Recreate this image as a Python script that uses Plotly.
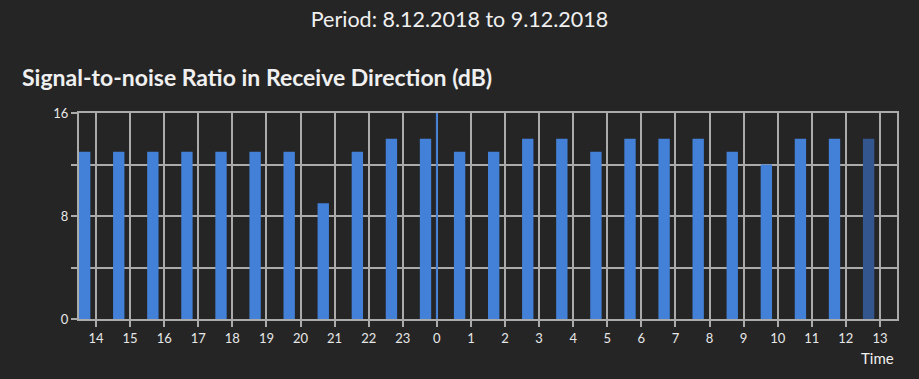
import plotly.graph_objects as go

# Data
hours = ["2018-12-08 13:40", "2018-12-08 14:40", "2018-12-08 15:40", "2018-12-08 16:40",
         "2018-12-08 17:40", "2018-12-08 18:40", "2018-12-08 19:40", "2018-12-08 20:40",
         "2018-12-08 21:40", "2018-12-08 22:40", "2018-12-08 23:40", "2018-12-09 00:40",
         "2018-12-09 01:40", "2018-12-09 02:40", "2018-12-09 03:40", "2018-12-09 04:40",
         "2018-12-09 05:40", "2018-12-09 06:40", "2018-12-09 07:40", "2018-12-09 08:40",
         "2018-12-09 09:40", "2018-12-09 10:40", "2018-12-09 11:40", "2018-12-09 12:40"]
snr_db = [13, 13, 13, 13, 13, 13, 13, 9, 13, 14, 14, 13,
          13, 14, 14, 13, 14, 14, 14, 13, 12, 14, 14, 14]
x_range = ["2018-12-08 13:30", "2018-12-09 13:30"]
day_boundary = "2018-12-09 00:00"
y_tickvals = [0, 4, 8, 12, 16]
y_ticktext = ["0", "", "8", "", "16"]
title_text = "Period: 8.12.2018 to 9.12.2018"
subtitle_text = "Signal-to-noise Ratio in Receive Direction (dB)"

BG = "#252525"
BLUE = "#4381d9"
DARK = "#33568f"
GRID = "#ababab"
FONT = "Lato"

colors = [BLUE] * (len(snr_db) - 1) + [DARK]

fig = go.Figure()
fig.add_trace(go.Bar(
    x=hours, y=snr_db, width=20 * 60 * 1000,
    marker=dict(color=colors, line=dict(width=0)),
    hoverinfo="x+y",
))

fig.add_shape(type="line", xref="x", yref="paper", x0=day_boundary, x1=day_boundary,
              y0=0, y1=1, line=dict(color=BLUE, width=2), layer="above")

fig.update_layout(
    width=919, height=379,
    paper_bgcolor=BG, plot_bgcolor=BG,
    margin=dict(l=79, r=22, t=113, b=60),
    showlegend=False,
    font=dict(family=FONT, color="#e8e8e8", size=13),
    title=dict(text=title_text, x=0.5, xanchor="center", y=1 - 19 / 379, yanchor="middle",
               yref="container", font=dict(size=21.5, color="#f0f0f0", family=FONT)),
    xaxis=dict(
        type="date", range=x_range, tick0="2018-12-08 14:00", dtick=3600000,
        tickformat="%-H", showgrid=True, gridcolor=GRID, gridwidth=2,
        ticks="outside", ticklen=6, tickcolor=GRID, tickwidth=2,
        showline=True, linecolor=GRID, linewidth=2, mirror=True,
        tickfont=dict(size=13, color="#e8e8e8"), zeroline=False, fixedrange=True,
    ),
    yaxis=dict(
        range=[0, 16], tickvals=y_tickvals, ticktext=y_ticktext,
        showgrid=True, gridcolor=GRID, gridwidth=2,
        ticks="outside", ticklen=6, tickcolor=GRID, tickwidth=2,
        showline=True, linecolor=GRID, linewidth=2, mirror=True,
        tickfont=dict(size=13, color="#e8e8e8"), zeroline=False, fixedrange=True,
    ),
    annotations=[
        dict(text="<b>" + subtitle_text + "</b>", xref="paper", yref="paper",
             x=(20 - 79) / 818, y=1 + (113 - 77) / 206, xanchor="left", yanchor="middle",
             showarrow=False, font=dict(size=23, color="#f0f0f0", family=FONT)),
        dict(text="Time", xref="paper", yref="paper", x=(896 - 79) / 818,
             y=-(358 - 319) / 206, xanchor="right", yanchor="middle",
             showarrow=False, font=dict(size=15, color="#f0f0f0", family=FONT)),
    ],
)

fig.write_html("out.html", config={"displayModeBar": False},
               post_script="document.body.style.margin='0';document.body.style.overflow='hidden';")
